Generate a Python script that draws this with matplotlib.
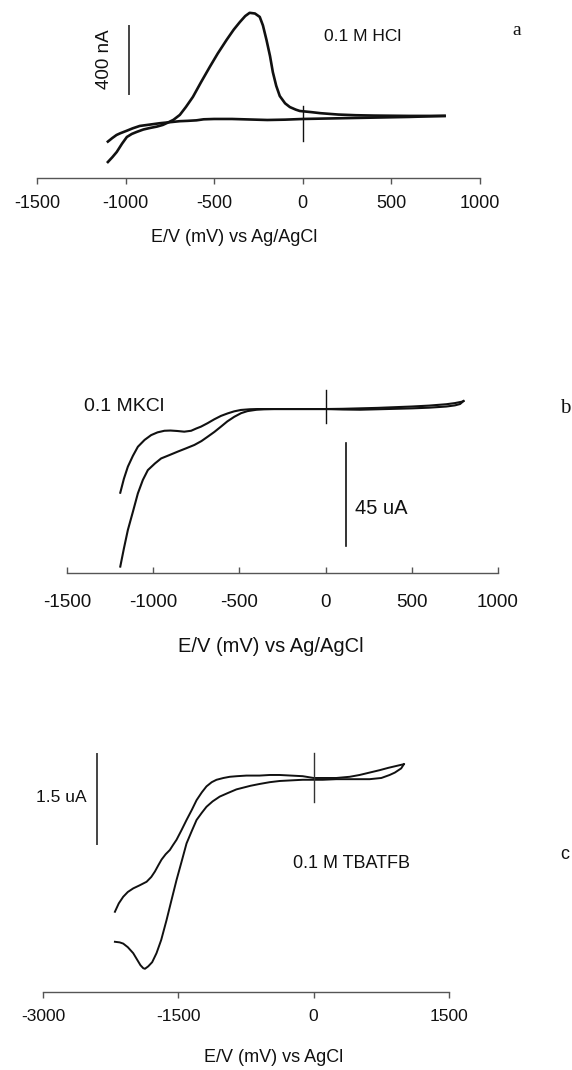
import matplotlib
matplotlib.use("Agg")
import matplotlib.pyplot as plt

plt.rcParams["font.family"] = ["Liberation Sans", "DejaVu Sans"]
plt.rcParams["axes.unicode_minus"] = False

W, H = 572, 1070

# panel a: 0.1 M HCl, current in nA
a_ticks = [-1500, -1000, -500, 0, 500, 1000]
a_e_fwd = [-1100, -1075, -1050, -1020, -993, -965, -937, -900, -863, -824, -790, -767,
           -730, -694, -660, -620, -575, -525, -480, -430, -390, -355, -325, -300, -270,
           -243, -225, -205, -185, -169, -150, -130, -100, -73, -40, -17, 50, 100, 200,
           300, 400, 500, 600, 700, 800]
a_i_fwd = [-253, -225, -194, -145, -106, -88, -76, -62, -53, -45, -35, -24,
           -5, 24, 70, 130, 215, 306, 385, 465, 525, 570, 605, 624, 620,
           600, 550, 465, 370, 275, 195, 135, 92, 70, 55, 47, 40, 34, 26,
           22, 20, 19, 18, 18, 18]
a_e_rev = [800, 600, 400, 200, 100, 0, -100, -200, -300, -400, -500, -560, -600, -650,
           -694, -750, -807, -863, -920, -960, -993, -1030, -1051, -1075, -1100]
a_i_rev = [18, 12, 8, 4, 2, 0, -4, -6, -3, 0, 0, -2, -8, -11,
           -13, -19, -25, -33, -41, -55, -69, -84, -94, -112, -133]

# panel b: 0.1 M KCl, current in uA
b_ticks = [-1500, -1000, -500, 0, 500, 1000]
b_e_fwd = [-1191, -1170, -1147, -1118, -1089, -1060, -1031, -990, -954, -905, -857, -810,
           -761, -720, -684, -645, -607, -570, -530, -490, -453, -400, -357, -300, -200,
           -100, 0, 100, 200, 300, 400, 500, 600, 700, 750, 790, 800]
b_i_fwd = [-68.9, -61, -52.9, -45, -36.9, -31, -26.7, -23.8, -21.6, -20.1, -18.6, -17.2,
           -15.7, -14, -12.1, -10, -7.7, -5.4, -3.4, -1.8, -0.9, -0.3, -0.1, 0, 0,
           0, 0, 0.1, 0.3, 0.5, 0.8, 1.1, 1.5, 2.1, 2.6, 3.2, 3.5]
b_e_rev = [800, 780, 750, 700, 600, 500, 400, 300, 200, 100, 0, -100, -200, -300, -395,
           -440, -491, -530, -568, -607, -646, -685, -723, -750, -780, -820, -860, -900,
           -935, -975, -1012, -1050, -1089, -1118, -1147, -1170, -1191]
b_i_rev = [3.5, 2.2, 1.6, 1.1, 0.6, 0.3, 0.1, -0.1, -0.3, -0.2, 0, 0, 0, 0, 0,
           -0.1, -0.4, -1.0, -1.9, -3.0, -4.5, -6.2, -7.7, -8.5, -9.5, -9.9, -9.6, -9.4,
           -9.5, -10.2, -11.4, -13.5, -16.5, -20.5, -25.2, -30.5, -36.6]

# panel c: 0.1 M TBATFB, current in uA
c_ticks = [-3000, -1500, 0, 1500]
c_e_fwd = [-2203, -2160, -2111, -2060, -2000, -1930, -1852, -1800, -1760, -1720, -1686,
           -1640, -1594, -1560, -1520, -1465, -1409, -1350, -1298, -1240, -1188, -1130,
           -1077, -1000, -930, -850, -745, -600, -487, -376, -250, -122, 0, 100, 251,
           400, 509, 620, 731, 830, 915, 1000]
c_i_fwd = [-2.23, -2.09, -1.98, -1.90, -1.84, -1.79, -1.73, -1.65, -1.56, -1.45, -1.36,
           -1.27, -1.20, -1.12, -1.03, -0.87, -0.70, -0.53, -0.37, -0.24, -0.14, -0.07,
           -0.03, 0.0, 0.02, 0.03, 0.04, 0.04, 0.05, 0.05, 0.04, 0.03, 0.0, 0.0, 0.0,
           0.02, 0.05, 0.09, 0.13, 0.17, 0.20, 0.23]
c_e_rev = [1000, 970, 900, 842, 750, 620, 500, 400, 251, 100, 0, -122, -250, -376, -487,
           -600, -700, -856, -950, -1041, -1120, -1188, -1240, -1298, -1350, -1409, -1465,
           -1520, -1575, -1631, -1690, -1742, -1790, -1834, -1870, -1889, -1920, -1960,
           -2000, -2060, -2111, -2150, -2203]
c_i_rev = [0.23, 0.16, 0.09, 0.05, 0.0, -0.02, -0.02, -0.02, -0.02, -0.03, -0.03, -0.03,
           -0.04, -0.05, -0.07, -0.10, -0.13, -0.19, -0.25, -0.31, -0.39, -0.48, -0.58,
           -0.70, -0.88, -1.09, -1.40, -1.70, -2.03, -2.37, -2.70, -2.92, -3.07, -3.14,
           -3.18, -3.17, -3.12, -3.02, -2.92, -2.82, -2.76, -2.74, -2.73]


def px_axes(fig, left, right, top, bottom):
    # pixel box -> figure fraction
    return fig.add_axes([left / W, 1 - bottom / H, (right - left) / W, (bottom - top) / H])


def style(ax, ticks, xlim, ylim, fs, tdir, pad):
    ax.set_xlim(xlim)
    ax.set_ylim(ylim)
    for s in ["top", "right", "left"]:
        ax.spines[s].set_visible(False)
    ax.spines["bottom"].set_color("#555555")
    ax.spines["bottom"].set_linewidth(1.0)
    ax.set_yticks([])
    ax.set_xticks(ticks)
    ax.set_xticklabels([str(t) for t in ticks])
    ax.tick_params(axis="x", direction=tdir, length=4, width=1, colors="#555555",
                   labelcolor="#111111", labelsize=fs, pad=pad)
    ax.patch.set_visible(False)


fig = plt.figure(figsize=(W / 100, H / 100), dpi=100)
ink = "#111111"

# ---- a
ax = px_axes(fig, 37, 480, 5, 178)
style(ax, a_ticks, (-1500, 1000), (-347, 670), 13, "out", 8)
ax.plot(a_e_fwd, a_i_fwd, color=ink, lw=1.9, solid_joinstyle="round")
ax.plot(a_e_rev, a_i_rev, color=ink, lw=1.9, solid_joinstyle="round")
ax.plot([0, 0], [-129, 76], color=ink, lw=1.0)
ax.plot([-982, -982], [147, 547], color="#444444", lw=1.4)
ax.text(-1117, 353, "400 nA", rotation=90, ha="center", va="center", fontsize=13.5, color=ink)
ax.text(339, 482, "0.1 M HCl", ha="center", va="center", fontsize=12.5, color=ink)
ax.text(1208, 523, "a", ha="center", va="center", fontsize=14, color=ink,
        family=["Liberation Serif", "DejaVu Serif"])
fig.text(234 / W, 1 - 238 / H, "E/V (mV) vs Ag/AgCl", ha="center", va="center",
         fontsize=13, color=ink)

# ---- b
ax = px_axes(fig, 67, 498, 380, 573)
style(ax, b_ticks, (-1500, 1000), (-71.7, 12.7), 13.5, "in", 15)
ax.plot(b_e_fwd, b_i_fwd, color=ink, lw=1.5, solid_joinstyle="round")
ax.plot(b_e_rev, b_i_rev, color=ink, lw=1.5, solid_joinstyle="round")
ax.plot([0, 0], [-6.1, 8.3], color=ink, lw=1.0)
ax.plot([121, 121], [-14.9, -59.9], color=ink, lw=1.2)
ax.text(173, -43.3, "45 uA", ha="left", va="center", fontsize=14.5, color=ink)
ax.text(-1399, 0.9, "0.1 MKCl", ha="left", va="center", fontsize=14, color=ink)
ax.text(1387, 0.4, "b", ha="center", va="center", fontsize=15, color=ink,
        family=["Liberation Serif", "DejaVu Serif"])
fig.text(271 / W, 1 - 647 / H, "E/V (mV) vs Ag/AgCl", ha="center", va="center",
         fontsize=14.5, color=ink)

# ---- c
ax = px_axes(fig, 43, 449, 740, 992)
style(ax, c_ticks, (-3000, 1500), (-3.567, 0.633), 12.5, "out", 8)
ax.plot(c_e_fwd, c_i_fwd, color=ink, lw=1.4, solid_joinstyle="round")
ax.plot(c_e_rev, c_i_rev, color=ink, lw=1.4, solid_joinstyle="round")
ax.plot([0, 0], [-0.40, 0.417], color="#333333", lw=1.0)
ax.plot([-2402, -2402], [0.40, -1.10], color="#444444", lw=1.4)
ax.text(-2513, -0.317, "1.5 uA", ha="right", va="center", fontsize=12.5, color=ink)
ax.text(-232, -1.417, "0.1 M TBATFB", ha="left", va="center", fontsize=13, color=ink)
ax.text(2779, -1.28, "c", ha="center", va="center", fontsize=13, color=ink)
fig.text(274 / W, 1 - 1058 / H, "E/V (mV) vs AgCl", ha="center", va="center",
         fontsize=13, color=ink)

fig.savefig("out.png", dpi=100)
